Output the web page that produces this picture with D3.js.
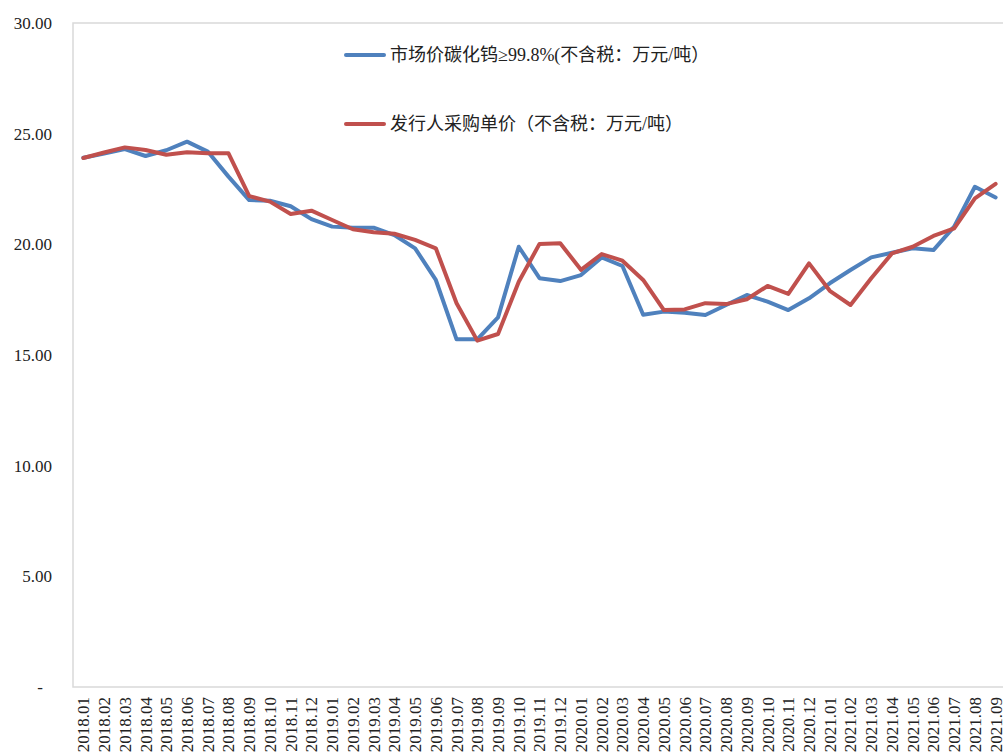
<!DOCTYPE html>
<html>
<head>
<meta charset="utf-8">
<script src="https://cdn.jsdelivr.net/npm/d3@7"></script>
<style>
  body { margin: 0; background: #fff; }
  svg text { font-family: "Liberation Serif", "Times New Roman", "Noto Sans CJK SC", serif; fill: #222; }
</style>
</head>
<body>
<div id="chart"></div>
<script>
// months on the category axis
var months = ["2018.01","2018.02","2018.03","2018.04","2018.05","2018.06","2018.07","2018.08","2018.09","2018.10","2018.11","2018.12",
  "2019.01","2019.02","2019.03","2019.04","2019.05","2019.06","2019.07","2019.08","2019.09","2019.10","2019.11","2019.12",
  "2020.01","2020.02","2020.03","2020.04","2020.05","2020.06","2020.07","2020.08","2020.09","2020.10","2020.11","2020.12",
  "2021.01","2021.02","2021.03","2021.04","2021.05","2021.06","2021.07","2021.08","2021.09"];

// 市场价碳化钨
var marketPrice = [23.91,24.10,24.30,23.99,24.25,24.64,24.19,23.06,22.00,21.97,21.72,21.14,
  20.80,20.75,20.75,20.42,19.82,18.39,15.71,15.71,16.70,19.89,18.47,18.34,
  18.61,19.41,19.02,16.82,16.96,16.91,16.81,17.26,17.71,17.41,17.03,17.56,
  18.24,18.84,19.41,19.62,19.82,19.74,20.80,22.60,22.12];

// 发行人采购单价
var purchasePrice = [23.90,24.15,24.38,24.26,24.05,24.16,24.11,24.11,22.18,21.93,21.37,21.52,
  21.10,20.68,20.55,20.48,20.20,19.82,17.34,15.65,15.95,18.31,20.02,20.05,
  18.85,19.56,19.26,18.39,17.03,17.06,17.34,17.30,17.52,18.12,17.76,19.14,
  17.90,17.26,18.47,19.59,19.89,20.38,20.72,22.08,22.73];

var yTicks = [0, 5, 10, 15, 20, 25, 30];

var legendNames = ["市场价碳化钨≥99.8%(不含税：万元/吨）", "发行人采购单价（不含税：万元/吨）"];
var colors = ["#4f81bd", "#c0504d"];

var width = 1003, height = 756;
var margin = {top: 23, right: -3, bottom: 69, left: 73};

var svg = d3.select("#chart").append("svg")
  .attr("width", width)
  .attr("height", height);

var x = d3.scaleBand()
  .domain(months)
  .range([margin.left, width - margin.right])
  .padding(0);

var y = d3.scaleLinear()
  .domain([0, 30])
  .range([height - margin.bottom, margin.top]);

// plot area border
svg.append("rect")
  .attr("x", margin.left)
  .attr("y", margin.top)
  .attr("width", width - margin.right - margin.left)
  .attr("height", height - margin.bottom - margin.top)
  .attr("fill", "none")
  .attr("stroke", "#d9d9d9")
  .attr("stroke-width", 1.5);

// y axis
var yAxis = svg.append("g")
  .attr("transform", "translate(" + margin.left + ",0)")
  .call(d3.axisLeft(y).tickValues(yTicks).tickSize(0).tickPadding(21)
    .tickFormat(function(d) { return d === 0 ? "-" : d.toFixed(2); }));
yAxis.select(".domain").remove();
yAxis.selectAll("text")
  .style("font-size", "17px")
  .attr("x", function(d) { return d === 0 ? -30 : -21; });

// x axis
var xAxis = svg.append("g")
  .attr("transform", "translate(0," + (height - margin.bottom) + ")")
  .call(d3.axisBottom(x).tickSize(0));
xAxis.select(".domain").remove();
xAxis.selectAll("text")
  .style("font-size", "17px")
  .attr("text-anchor", "end")
  .attr("transform", "rotate(-90)")
  .attr("x", -10)
  .attr("y", 0)
  .attr("dy", "0.35em");

// lines
var line = d3.line()
  .x(function(d, i) { return x(months[i]) + x.bandwidth() / 2; })
  .y(function(d) { return y(d); });

[marketPrice, purchasePrice].forEach(function(series, k) {
  svg.append("path")
    .datum(series)
    .attr("fill", "none")
    .attr("stroke", colors[k])
    .attr("stroke-width", 4)
    .attr("stroke-linejoin", "round")
    .attr("stroke-linecap", "round")
    .attr("d", line);
});

// legend
var legend = svg.append("g");
legendNames.forEach(function(name, k) {
  var ly = 55 + k * 69;
  legend.append("line")
    .attr("x1", 346).attr("x2", 384)
    .attr("y1", ly).attr("y2", ly)
    .attr("stroke", colors[k])
    .attr("stroke-width", 4)
    .attr("stroke-linecap", "round");
  legend.append("text")
    .attr("x", 390)
    .attr("y", ly)
    .attr("dy", "0.35em")
    .style("font-size", "18px")
    .text(name);
});
</script>
</body>
</html>
